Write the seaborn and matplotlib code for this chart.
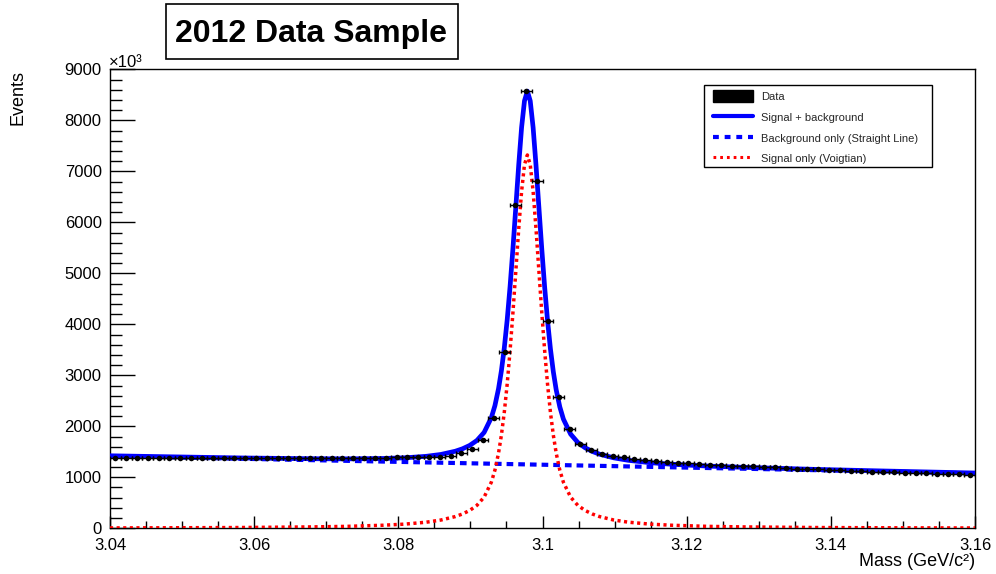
import numpy as np
import matplotlib
matplotlib.use("Agg")
import matplotlib.pyplot as plt
import seaborn as sns
from matplotlib.patches import Patch, Rectangle
from matplotlib.lines import Line2D
from matplotlib.ticker import MultipleLocator

# ---------------- data (Events in units of 10^3) ----------------
bin_low = 3.04
bin_width = 0.0015
data_events = [
    1378, 1377, 1377, 1376, 1376, 1376, 1375, 1375, 1375, 1375,
    1375, 1375, 1376, 1376, 1377, 1377, 1378, 1379, 1380, 1381,
    1382, 1383, 1384, 1385, 1386, 1388, 1389, 1391, 1393, 1398,
    1405, 1425, 1470, 1555, 1731, 2169, 3463, 6340, 8565, 6812,
    4071, 2569, 1941, 1653, 1535, 1457, 1418, 1392, 1365, 1340,
    1326, 1300, 1287, 1274, 1261, 1248, 1241, 1228, 1222, 1215,
    1202, 1195, 1182, 1169, 1163, 1156, 1150, 1143, 1130, 1124,
    1110, 1104, 1097, 1091, 1084, 1078, 1071, 1065, 1058, 1045,
]

# fitted curves
curve_mass = [3.0400, 3.0479, 3.0579, 3.0679, 3.0729, 3.0779, 3.0809, 3.0839, 3.0859,
              3.0879, 3.0889, 3.0899, 3.0909, 3.0919, 3.0929, 3.0934, 3.0939, 3.0943,
              3.0947, 3.0951, 3.0955, 3.0959, 3.0963, 3.0967, 3.0971, 3.0975, 3.0979,
              3.0983, 3.0987, 3.0991, 3.0995, 3.0999, 3.1003, 3.1007, 3.1011, 3.1015,
              3.1019, 3.1024, 3.1029, 3.1039, 3.1049, 3.1059, 3.1069, 3.1079, 3.1099,
              3.1119, 3.1149, 3.1179, 3.1229, 3.1279, 3.1379, 3.1479, 3.1600]
signal_curve = [7, 10, 15, 27, 38, 60, 82, 120, 162,
                230, 281, 350, 450, 611, 903, 1141, 1474, 1829,
                2276, 2826, 3481, 4231, 5046, 5869, 6606, 7128, 7320,
                7128, 6606, 5869, 5046, 4231, 3481, 2826, 2276, 1829,
                1474, 1141, 903, 611, 450, 350, 281, 230, 162,
                120, 82, 60, 38, 27, 15, 10, 6]
total_curve = [1422, 1403, 1380, 1364, 1361, 1369, 1382, 1412, 1448,
               1511, 1559, 1625, 1722, 1880, 2169, 2406, 2738, 3091,
               3537, 4086, 4740, 5489, 6303, 7125, 7861, 8381, 8572,
               8379, 7856, 7118, 6294, 5478, 4727, 4071, 3519, 3071,
               2715, 2381, 2141, 1847, 1683, 1580, 1508, 1454, 1381,
               1333, 1287, 1256, 1220, 1195, 1155, 1122, 1084]
bkg_mass = [3.04, 3.16]
bkg_curve = [1415, 1078]

x_ticks = [3.04, 3.06, 3.08, 3.10, 3.12, 3.14, 3.16]
x_tick_labels = ["3.04", "3.06", "3.08", "3.1", "3.12", "3.14", "3.16"]
y_ticks = [0, 1000, 2000, 3000, 4000, 5000, 6000, 7000, 8000, 9000]
y_tick_labels = [str(v) for v in y_ticks]
legend_labels = ["Data", "Signal + background",
                 "Background only (Straight Line)", "Signal only (Voigtian)"]
title_text = "2012 Data Sample"

# ---------------- style ----------------
sns.set_theme(style="white")
plt.rcParams['font.family'] = ['Liberation Sans', 'DejaVu Sans']

W, H = 996, 574
fig = plt.figure(figsize=(W / 100, H / 100), dpi=100)
fig.patch.set_facecolor('white')
ax_l, ax_r, ax_t, ax_b = 110, 975, 69.3, 528.3
ax = fig.add_axes([ax_l / W, 1 - ax_b / H, (ax_r - ax_l) / W, (ax_b - ax_t) / H])
ax.set_facecolor('white')

centers = bin_low + bin_width * (np.arange(len(data_events)) + 0.5)

blue = '#0000ff'
red = '#ff0000'

sns.lineplot(x=curve_mass, y=total_curve, ax=ax, color=blue, linewidth=3.4,
             estimator=None, sort=False, legend=False, zorder=3,
             solid_joinstyle='round', solid_capstyle='butt')
sns.lineplot(x=bkg_mass, y=bkg_curve, ax=ax, color=blue, linewidth=3.0,
             estimator=None, sort=False, legend=False, zorder=3,
             linestyle=(0, (1.6, 1.2)))
sns.lineplot(x=curve_mass, y=signal_curve, ax=ax, color=red, linewidth=2.5,
             estimator=None, sort=False, legend=False, zorder=4,
             linestyle=(0, (0.9, 1.0)))

ax.errorbar(centers, data_events, xerr=bin_width / 2, fmt='none',
            ecolor='black', elinewidth=1.0, capsize=1.6, capthick=1.0, zorder=5)
sns.scatterplot(x=centers, y=data_events, ax=ax, color='black', s=16,
                linewidth=0, legend=False, zorder=6)

# ---------------- axes ----------------
ax.set_xlim(3.04, 3.16)
ax.set_ylim(0, 9000)
ax.set_xticks(x_ticks)
ax.set_xticklabels(x_tick_labels)
ax.set_yticks(y_ticks)
ax.set_yticklabels(y_tick_labels)
ax.xaxis.set_minor_locator(MultipleLocator(0.005))
ax.yaxis.set_minor_locator(MultipleLocator(200))
ax.set_xlabel('')
ax.set_ylabel('')
ax.tick_params(which='both', direction='in', color='black', width=1.0,
               bottom=True, left=True, top=False, right=False, labelcolor='black')
ax.tick_params(axis='x', which='major', length=8.6, pad=7, labelsize=12)
ax.tick_params(axis='x', which='minor', length=4.7)
ax.tick_params(axis='y', which='major', length=18, pad=6, labelsize=12)
ax.tick_params(axis='y', which='minor', length=8.6)
for s in ax.spines.values():
    s.set_visible(True)
    s.set_color('black')
    s.set_linewidth(1.0)

# ---------------- texts ----------------
fig.text(18.5 / W, 1 - 70 / H, 'Events', rotation=90, ha='center', va='top',
         fontsize=13, color='black')
fig.text(975 / W, 1 - 566 / H, 'Mass (GeV/c²)', ha='right', va='baseline',
         fontsize=13, color='black')
fig.text(109 / W, 1 - 67 / H, '×10³', ha='left', va='baseline',
         fontsize=12, color='black')

# title pave
fig.add_artist(Rectangle((166 / W, 1 - 58.5 / H), (457.5 - 166) / W, (58.5 - 3.5) / H,
                         transform=fig.transFigure, fill=True, facecolor='white',
                         edgecolor='black', linewidth=1.2))
fig.text(311 / W, 1 - 41.7 / H, title_text, ha='center', va='baseline',
         fontsize=23, fontweight='bold', color='black')

# legend
ax.add_patch(Rectangle((704 / W, 1 - 167 / H), (932 - 704) / W, (167 - 85) / H,
                       transform=fig.transFigure, fill=True, facecolor='white',
                       edgecolor='black', linewidth=1.0, zorder=9, clip_on=False))
handles = [
    Patch(facecolor='black', edgecolor='black'),
    Line2D([], [], color=blue, linewidth=3.0),
    Line2D([], [], color=blue, linewidth=3.0, linestyle=(0, (1.4, 1.4))),
    Line2D([], [], color=red, linewidth=2.2, linestyle=(0, (0.9, 1.3))),
]
leg = ax.legend(handles, legend_labels, loc='upper left',
                bbox_to_anchor=(713 / W, 1 - 90 / H), bbox_transform=fig.transFigure,
                frameon=False, borderpad=0, borderaxespad=0,
                handlelength=3.6, handleheight=1.35, handletextpad=0.72,
                labelspacing=0.75, fontsize=8)
leg.set_zorder(11)

fig.savefig('out.png', dpi=100, facecolor='white')
